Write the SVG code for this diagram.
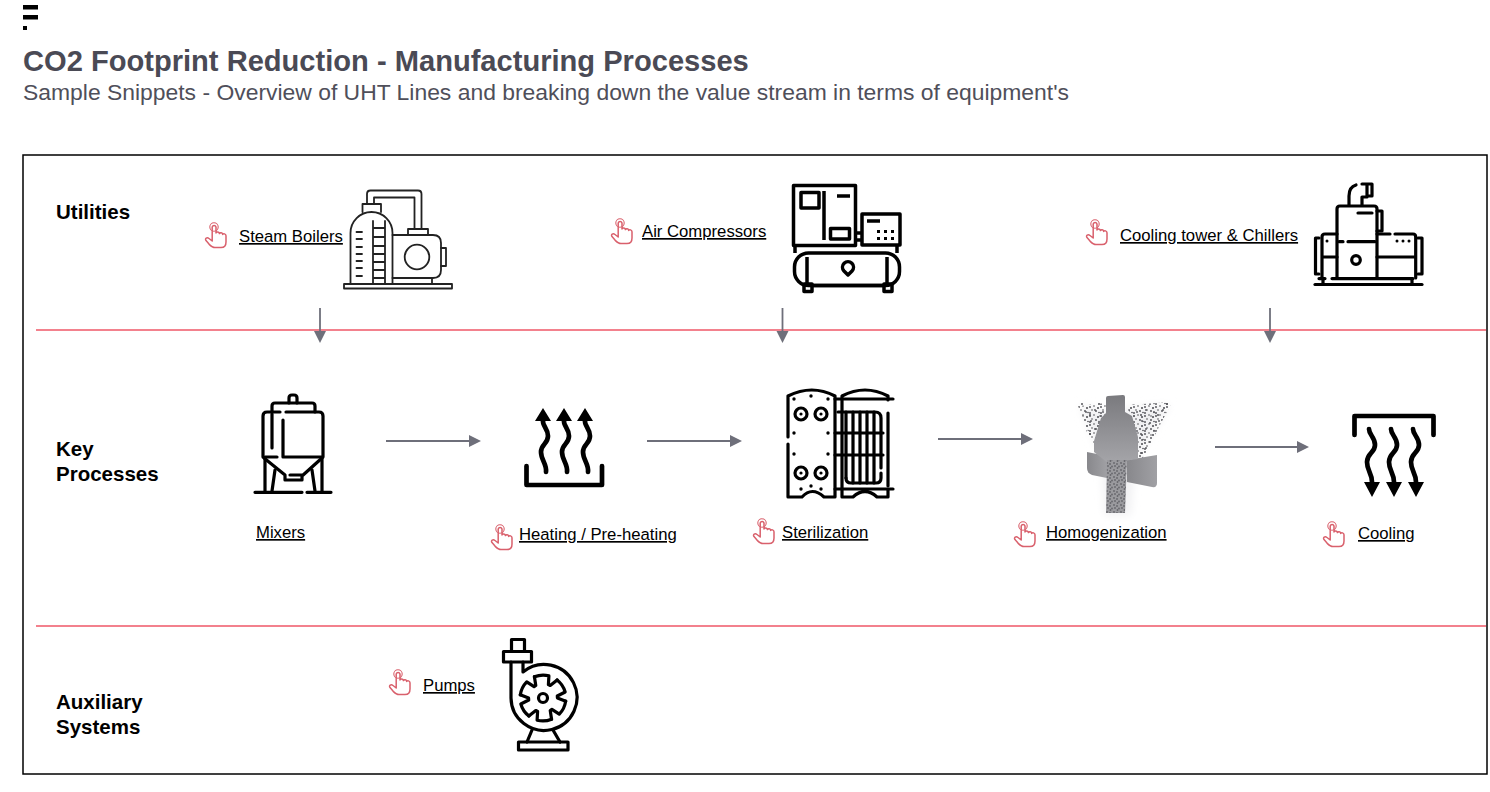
<svg xmlns="http://www.w3.org/2000/svg" width="1490" height="792" viewBox="0 0 1490 792">
<style>
text{font-family:"Liberation Sans",Arial,sans-serif}
.t{font-size:29.100px;font-weight:700;fill:#4a4a55}
.s{font-size:22.900px;fill:#4f4f5a}
.h{font-size:20.500px;font-weight:700;fill:#000}
.l{font-size:16.700px;fill:#000;text-decoration:underline}
.hand{fill:none;stroke:#d9606c;stroke-width:1.500;stroke-linejoin:round;stroke-linecap:round}
.sep{stroke:#ef5868;stroke-width:1.500;fill:none}
.c{stroke:#6e6f7a;stroke-width:1.800;fill:none;marker-end:url(#ah)}
.i1{fill:none;stroke:#222;stroke-width:1.800;stroke-linejoin:round;stroke-linecap:round}
.i3{fill:none;stroke:#000;stroke-width:3.200;stroke-linejoin:round;stroke-linecap:round}
.i5{fill:none;stroke:#000;stroke-width:4.700;stroke-linejoin:round;stroke-linecap:round}
.k{fill:#000}
</style>
<defs>
<marker id="ah" markerUnits="userSpaceOnUse" markerWidth="13" markerHeight="13" refX="1" refY="6" orient="auto"><path d="M0 0L12 6L0 12Z" fill="#6e6f7a"/></marker>
<g id="hand"><circle cx="9" cy="5" r="4.200" stroke-width="1.100"/><path d="M7.200 5a2 2 0 0 1 3.800 0V11c.6-1.600 3.300-1.400 3.400.6c.6-1.400 3.200-1.200 3.300.8c.7-1 3.200-.8 3.300 1.400V20c0 3.600-2 5.600-5 5.600H10c-2.500 0-4-1.500-6-3.500L1 18.600c-1.500-2 1-3.600 3-2.100L7.200 19Z"/></g>
<path id="waveUp" d="M0 0C-1 6 5 8 5 16S-2 24-2 32S4 44 3 52"/>
<path id="waveDown" d="M0 0C0 6 6 8 6 16S-2 24-2 33S3 44 3 53"/>
<path id="tooth" d="M-8.600 -21.200A23 23 0 0 1 5.900 -22.200L5.400 -13.400L7.200 -12.500L14.200 -18.100"/>
<pattern id="dots" width="11" height="9" patternUnits="userSpaceOnUse"><g fill="#4a4a50"><circle cx="1" cy="2" r=".9"/><circle cx="5" cy="1" r=".8"/><circle cx="9" cy="3" r="1"/><circle cx="3" cy="5" r=".8"/><circle cx="7" cy="6" r=".9"/><circle cx="10" cy="7.500" r=".8"/><circle cx="1" cy="8" r=".9"/></g></pattern>
<pattern id="dots2" width="17" height="19" patternUnits="userSpaceOnUse"><g fill="#55555b"><circle cx="3" cy="3" r=".9"/><circle cx="11" cy="5" r="1"/><circle cx="7" cy="11" r=".9"/><circle cx="15" cy="13" r=".9"/><circle cx="2" cy="16" r="1"/><circle cx="12" cy="17" r=".8"/></g></pattern>
<pattern id="dense" width="7" height="7" patternUnits="userSpaceOnUse"><rect width="7" height="7" fill="#9a9a9e"/><g fill="#66666c"><circle cx="1" cy="1" r=".9"/><circle cx="4" cy="2" r=".9"/><circle cx="6" cy="4.500" r=".9"/><circle cx="2" cy="4" r=".9"/><circle cx="4.500" cy="6" r=".9"/></g></pattern>
<linearGradient id="gr" x1="0" y1="0" x2="0" y2="1"><stop offset="0" stop-color="#7a7a7e"/><stop offset="1" stop-color="#a5a5a9"/></linearGradient>
<linearGradient id="gr2" x1="0" y1="0" x2="1" y2="0"><stop offset="0" stop-color="#88888c"/><stop offset="1" stop-color="#a0a0a4"/></linearGradient>
<filter id="soft" x="-20%" y="-20%" width="140%" height="140%"><feGaussianBlur stdDeviation="4"/></filter>
</defs>
<rect width="1490" height="792" fill="#fff"/>

<g id="logo"><rect class="k" x="23" y="5" width="15" height="4.500"/><rect class="k" x="23" y="15" width="15" height="4.500"/><rect class="k" x="23" y="26" width="4" height="4"/></g>
<g id="header"><text class="t" x="23" y="71">CO2 Footprint Reduction - Manufacturing Processes</text><text class="s" x="23" y="100">Sample Snippets - Overview of UHT Lines and breaking down the value stream in terms of equipment's</text></g>
<rect id="frame" x="23" y="155" width="1464" height="619" fill="none" stroke="#000" stroke-width="1.500"/>
<g id="separators"><path class="sep" d="M36 330H1486M36 626H1486"/></g>
<g id="headings"><text class="h" x="56" y="219">Utilities</text><text class="h" x="56" y="456">Key</text><text class="h" x="56" y="481">Processes</text><text class="h" x="56" y="709">Auxiliary</text><text class="h" x="56" y="734">Systems</text></g>

<g id="connectors">
<path class="c" d="M320 308V332"/><path class="c" d="M782.500 308V332"/><path class="c" d="M1270 308V332"/>
<path class="c" d="M386 441H470"/><path class="c" d="M647 441H731"/><path class="c" d="M938 439H1022"/><path class="c" d="M1215 447H1298"/>
</g>

<g id="steam-boilers">
<use href="#hand" class="hand" x="205" y="222"/><text class="l" x="239" y="242">Steam Boilers</text>
<g class="i1"><rect x="344" y="284" width="108" height="4.500"/><path d="M350.500 284V233A21 21 0 0 1 392.500 233V284"/><path d="M362.500 212V204H381V212"/><path d="M367 204V194Q367 190.500 370.500 190.500H418Q421.500 190.500 421.500 194V229M374 204V197.500H414.500V229"/><path d="M408 235V229H428V235"/><path d="M392.500 235H433Q441 235 441 243V270Q441 278 433 278H392.500M432 278V284"/><path d="M441 248H446V266H441"/><circle cx="417" cy="257" r="12.300"/><path d="M373 221V284M385 221V284M373 228H385M373 237H385M373 246H385M373 254H385M373 262H385M373 270H385M373 278H385"/><path d="M356.500 232H362M356.500 239H362M356.500 247H362M356.500 254H362M356.500 261H362M356.500 268H362M356.500 276H362"/></g>
</g>

<g id="air-compressors">
<use href="#hand" class="hand" x="611" y="218"/><text class="l" x="642" y="237">Air Compressors</text>
<g class="i3" style="stroke-width:3.500;stroke-linecap:butt"><rect x="793.500" y="185.500" width="62" height="60"/><rect x="801" y="192.500" width="18" height="15.500"/><path d="M824 191V240M837 196H850"/><rect x="830.500" y="228.500" width="19" height="10.500"/><rect x="862" y="214" width="38" height="31"/><path d="M867 221H880M857 233H861M857 240H861M795 246V253M897 246V253"/><rect x="794.500" y="253" width="105" height="32.500" rx="14"/><path d="M807 257V283M887 257V283M812 285.500H883"/><rect x="804" y="284" width="8" height="7.500"/><rect x="884" y="284" width="8" height="7.500"/><path d="M848 275L844 271A5.500 5.500 0 1 1 852 271Z"/></g>
<g class="k"><rect x="877" y="230" width="3" height="3"/><rect x="884" y="230" width="3" height="3"/><rect x="891" y="230" width="3" height="3"/><rect x="877" y="237" width="3" height="3"/><rect x="884" y="237" width="3" height="3"/><rect x="891" y="237" width="3" height="3"/></g>
</g>

<g id="cooling-tower-chillers">
<use href="#hand" class="hand" x="1086" y="219"/><text class="l" x="1120" y="241">Cooling tower &amp; Chillers</text>
<g class="i3"><path d="M1315 284.500H1422"/><path d="M1332 278.600H1413M1319 278.600H1325M1323 279V284M1412 279V284"/><path d="M1337 278V209Q1337 206 1340 206H1374Q1377 206 1377 209V278"/><path d="M1348 241.700H1375M1339 241.700H1343M1377 257H1415M1323 257H1337M1358 213H1372"/><circle cx="1356" cy="260" r="4.300"/><path d="M1377 211H1382V231H1377"/><path d="M1377 234H1390M1395 234H1413Q1415.700 234 1415.700 237V278"/><path d="M1337 234H1325Q1322 234 1322 237V278"/><path d="M1319 238H1315.500V274H1319M1418 238H1422V274H1418"/><path d="M1349 205V196Q1349 187 1356 185"/><path d="M1362 205V197H1367V184H1362M1367 184H1372V196H1367"/></g>
<g class="k"><circle cx="1327" cy="241" r="1.500"/><circle cx="1397" cy="241" r="1.500"/><circle cx="1403" cy="241" r="1.500"/><circle cx="1409" cy="241" r="1.500"/></g>
</g>

<g id="mixers">
<text class="l" x="256" y="538">Mixers</text>
<g class="i3"><path d="M255 492.300H302M307 492.300H331"/><path d="M289 403V398Q289 395 292 395H294Q297 395 297 398V403"/><path d="M272 412V406Q272 403 275 403H312Q315 403 315 406V412"/><path d="M263 457V416Q263 412 267 412H280M286 412H319Q323 412 323 416V457"/><path d="M272 414V448M283 420V457H322M265 457H277"/><path d="M264 458L285 475V480H302V476L322 458M290 475H302"/><path d="M265 458V491M322 458V491M275 470L272 491M312 470L315 491"/></g>
</g>

<g id="heating">
<use href="#hand" class="hand" x="491" y="524"/><text class="l" x="519" y="540">Heating / Pre-heating</text>
<path class="i5" d="M526.500 466V485H602V466"/>
<g class="i5"><use href="#waveUp" x="543" y="420"/><use href="#waveUp" x="564" y="420"/><use href="#waveUp" x="585" y="420"/></g>
<path class="k" d="M535 421L543 408L551 421ZM556 421L564 408L572 421ZM577 421L585 408L593 421Z"/>
</g>

<g id="sterilization">
<use href="#hand" class="hand" x="753" y="518"/><text class="l" x="782" y="538">Sterilization</text>
<g class="i3"><path d="M788 437V396Q812 384 835 396V497H824Q812 486 802 497H788V444"/><path d="M842 396Q865 384 888 396V400M888 413V486M888 490V497H877Q865 486 853 497H842V396"/><path d="M835 399H893M835 489H893M835 433H883M835 455H883"/><path d="M838 412H875Q881 412 881 418V468"/><path d="M846 412V478M853 412V483M860 412V483M867 412V483M874 412V483"/><path d="M846 478Q846 483 851 483H876Q881 483 881 478V473"/><circle cx="801" cy="414" r="6"/><circle cx="821" cy="414" r="6"/><circle cx="801" cy="473" r="6"/><circle cx="821" cy="473" r="6"/></g>
<g class="k"><circle cx="801" cy="414" r="1.600"/><circle cx="821" cy="414" r="1.600"/><circle cx="801" cy="473" r="1.600"/><circle cx="821" cy="473" r="1.600"/><circle cx="794" cy="399" r="1.700"/><circle cx="811" cy="396" r="1.700"/><circle cx="828" cy="399" r="1.700"/><circle cx="794" cy="433" r="1.700"/><circle cx="828" cy="433" r="1.700"/><circle cx="794" cy="454" r="1.700"/><circle cx="828" cy="454" r="1.700"/><circle cx="801" cy="489" r="1.700"/><circle cx="811" cy="486" r="1.700"/><circle cx="821" cy="489" r="1.700"/></g>
</g>

<g id="homogenization">
<use href="#hand" class="hand" x="1014" y="521"/><text class="l" x="1046" y="538">Homogenization</text>
<path d="M1080 405L1103 410L1170 405L1135 460L1130 515H1105L1102 460Z" fill="#f0f0f2" filter="url(#soft)"/>
<path d="M1078 406L1106 403L1104 442L1094 447Z" fill="url(#dots)"/>
<path d="M1078 403L1108 403L1104 440L1088 436Z" fill="url(#dots2)"/>
<path d="M1128 405L1172 402L1142 460L1131 458L1134 430Z" fill="url(#dots)"/>
<path d="M1128 405L1172 402L1142 460L1131 458Z" fill="url(#dots2)"/>
<path d="M1087 452L1107 456V478L1092 475Q1087 473 1087 468Z" fill="url(#gr2)"/>
<path d="M1157 455V483Q1157 488 1152 487L1127 482V460Z" fill="url(#gr2)"/>
<path d="M1106 398Q1106 396 1108 396L1123 395Q1125 395 1125 397V412L1132 416L1138 437V459L1108 463L1094 452V441L1101 418L1106 413Z" fill="url(#gr)"/>
<path d="M1107 460H1127L1125 513H1106Z" fill="url(#dense)"/>
</g>

<g id="cooling">
<use href="#hand" class="hand" x="1323" y="521"/><text class="l" x="1358" y="539">Cooling</text>
<path class="i5" d="M1354.500 435V416H1433.500V435"/>
<g class="i5"><use href="#waveDown" x="1369" y="429"/><use href="#waveDown" x="1391" y="429"/><use href="#waveDown" x="1413" y="429"/></g>
<path class="k" d="M1364 482H1380L1372 497ZM1386 482H1402L1394 497ZM1408 482H1424L1416 497Z"/>
</g>

<g id="pumps">
<use href="#hand" class="hand" x="389" y="669"/><text class="l" x="423" y="691">Pumps</text>
<g class="i3"><rect x="511.500" y="639.500" width="13" height="12"/><rect x="503.500" y="651.500" width="28" height="10.500"/><path d="M523 662V672A33 33 0 1 1 511 698V662"/><circle cx="543" cy="698" r="4.500"/><g transform="translate(543 698)"><use href="#tooth"/><use href="#tooth" transform="rotate(60)"/><use href="#tooth" transform="rotate(120)"/><use href="#tooth" transform="rotate(180)"/><use href="#tooth" transform="rotate(240)"/><use href="#tooth" transform="rotate(300)"/></g><path d="M532 730L527 742M553 730L560 742"/><rect x="518.500" y="742" width="49.500" height="8"/></g>
</g>
</svg>
